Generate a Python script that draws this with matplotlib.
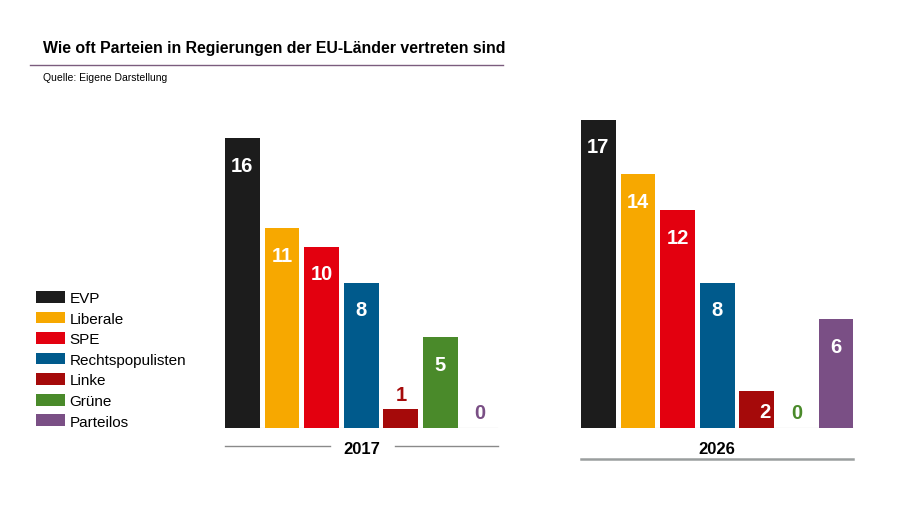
import matplotlib
matplotlib.use("Agg")
import matplotlib.pyplot as plt
from matplotlib.lines import Line2D

plt.rcParams['font.family'] = ['Liberation Sans', 'DejaVu Sans']

parties = ["EVP", "Liberale", "SPE", "Rechtspopulisten", "Linke", "Grüne", "Parteilos"]
colors = ["#1c1c1c", "#f7a800", "#e3000f", "#005a8c", "#a50a0a", "#4a8a2a", "#7a4f85"]
years = ["2017", "2026"]
values_2017 = [16, 11, 10, 8, 1, 5, 0]
values_2026 = [17, 14, 12, 8, 2, 0, 6]

W, H = 900, 510
fig = plt.figure(figsize=(9, 5.1), dpi=100)

def fx(px):
    return px / W

def fy(py):
    return 1 - py / H

pitch = 39.6
ymax = 18
scale = 18.1
base_y = 428.5

def make_ax(first_left):
    left = first_left - (0.5 - 0.44) * pitch
    width = 7 * pitch
    height = ymax * scale
    ax = fig.add_axes([fx(left), fy(base_y), fx(width), height / H])
    ax.set_xlim(-0.5, 6.5)
    ax.set_ylim(0, ymax)
    ax.axis("off")
    return ax

ax1 = make_ax(225)
ax2 = make_ax(581)

def draw(ax, vals, style):
    x = list(range(len(vals)))
    bars = ax.bar(x, vals, width=0.88, color=colors, label=parties)
    ax.plot([-0.44, 6.44], [0, 0], color="#e6e6e6", lw=1, zorder=0)
    for i, v in enumerate(vals):
        if v >= 3:
            ax.text(i, v - 1.5, str(v), ha="center", va="center", color="white",
                    fontsize=14.5, fontweight="bold")
        elif style.get(i) == "inside":
            ax.text(i + 0.2, v - 1.1, str(v), ha="center", va="center", color="white",
                    fontsize=14.5, fontweight="bold")
        else:
            ax.text(i, v + 0.85, str(v), ha="center", va="center", color=colors[i],
                    fontsize=14.5, fontweight="bold")
    return bars

bars1 = draw(ax1, values_2017, {})
bars2 = draw(ax2, values_2026, {4: "inside"})

# Year labels
fig.text(fx(362), fy(450), years[0], ha="center", va="center", fontsize=12, fontweight="bold")
fig.add_artist(Line2D([fx(225), fx(330)], [fy(447), fy(447)], color="#8a8a8a", lw=1))
fig.add_artist(Line2D([fx(395), fx(498)], [fy(447), fy(447)], color="#8a8a8a", lw=1))

fig.text(fx(717), fy(450), years[1], ha="center", va="center", fontsize=12, fontweight="bold")
fig.add_artist(Line2D([fx(581), fx(853)], [fy(460), fy(460)], color="#9a9e9e", lw=1.8))

# Title
fig.text(fx(43), fy(48), "Wie oft Parteien in Regierungen der EU-Länder vertreten sind",
         ha="left", va="center", fontsize=11.4, fontweight="bold")
fig.add_artist(Line2D([fx(30), fx(503)], [fy(66), fy(66)], color="#7b5c7e", lw=1))
fig.text(fx(43), fy(78), "Quelle: Eigene Darstellung", ha="left", va="center", fontsize=7.5)

# Legend
leg = fig.legend(handles=list(bars1), labels=parties, loc="upper left",
                 bbox_to_anchor=(fx(36), fy(292)), frameon=False, fontsize=11,
                 handlelength=1.9, handleheight=0.8, handletextpad=0.3,
                 labelspacing=0.42, borderpad=0, borderaxespad=0)

fig.savefig("out.png", dpi=100)
